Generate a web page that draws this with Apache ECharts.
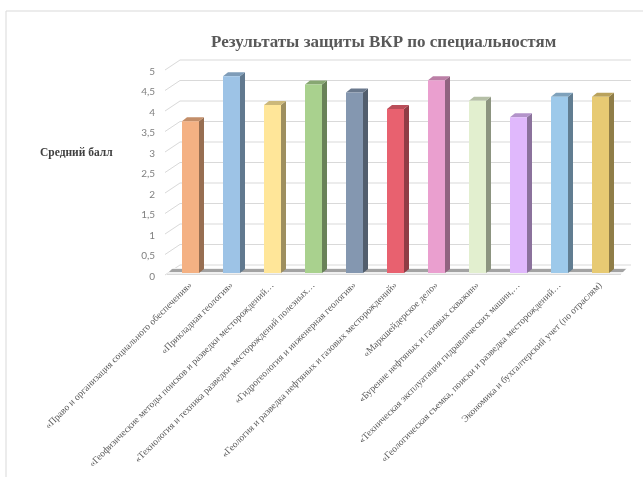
<!DOCTYPE html>
<html><head><meta charset="utf-8">
<script src="https://cdn.jsdelivr.net/npm/echarts@6/dist/echarts.min.js"></script>
<style>html,body{margin:0;padding:0;background:#fff}#c{width:643px;height:477px}</style>
</head><body><div id="c"></div>
<script>
const categories = [
  '«Право и организация социального обеспечения»',
  '«Прикладная геология»',
  '«Геофизические методы поисков и разведки месторождений…',
  '«Технология и техника разведки месторождений полезных…',
  '«Гидрогеология и инженерная геология»',
  '«Геология и разведка нефтяных и газовых месторождений»',
  '«Маркшейдерское дело»',
  '«Бурение нефтяных и газовых скважин»',
  '«Техническая эксплуатация гидравлических машин,…',
  '«Геологическая съемка, поиски и разведка месторождений…',
  'Экономика и бухгалтерский учет (по отраслям)'
];
const scores = [3.7, 4.8, 4.1, 4.6, 4.4, 4.0, 4.7, 4.2, 3.8, 4.3, 4.3];
const barColors = ['#F4B183','#9DC3E6','#FFE699','#A9D18E','#8497B0','#E8616F','#EA9FCF','#E2EFCF','#E0B8FC','#9DC9EA','#E7CA73'];
const yTicks = [0, 0.5, 1, 1.5, 2, 2.5, 3, 3.5, 4, 4.5, 5];
const titleText = 'Результаты защиты ВКР по специальностям';
const yName = 'Средний балл';

function shade(hex, k) {
  const n = parseInt(hex.slice(1), 16);
  const r = Math.round(((n >> 16) & 255) * k), g = Math.round(((n >> 8) & 255) * k), b = Math.round((n & 255) * k);
  return 'rgb(' + r + ',' + g + ',' + b + ')';
}

const chart = echarts.init(document.getElementById('c'));
const serif = "'Liberation Serif','Times New Roman',serif";
chart.setOption({
  animation: false,
  backgroundColor: '#fff',
  title: {
    text: titleText, left: 206, top: 29,
    textStyle: { fontFamily: serif, fontSize: 17, fontWeight: 'bold', color: '#595959' }
  },
  graphic: [
    { type: 'rect', shape: { x: 6, y: 11, width: 700, height: 520 }, style: { fill: 'none', stroke: '#d9d9d9', lineWidth: 1 }, silent: true },
    { type: 'text', left: 40, top: 147, style: { text: yName, font: "bold 11.5px 'Liberation Serif', serif", fill: '#404040' } }
  ],
  grid: { left: 170, right: 22, top: 68, bottom: 204 },
  xAxis: {
    type: 'category', data: categories,
    axisLine: { show: false }, axisTick: { show: false },
    axisLabel: { interval: 0, rotate: 45, margin: 11, fontFamily: serif, fontSize: 9.6, color: '#595959' }
  },
  yAxis: {
    type: 'value', min: 0, max: 5, interval: 0.5,
    axisLine: { show: false }, axisTick: { show: false }, splitLine: { show: false },
    axisLabel: { margin: 15, verticalAlign: 'top', lineHeight: 7, fontFamily: "Lato, 'Open Sans', sans-serif", fontSize: 10, color: '#7f7f7f',
      formatter: v => String(v).replace('.', ',') }
  },
  series: [
    {
      type: 'custom', z: 1, silent: true,
      data: yTicks.map(v => [0, v]),
      renderItem: function (params, api) {
        const cs = params.coordSys;
        const y = api.coord([0, api.value(1)])[1];
        return {
          type: 'polyline',
          shape: { points: [[cs.x - 5, y + 2], [cs.x + 10, y - 8], [cs.x + cs.width + 10, y - 8]] },
          style: { stroke: '#d9d9d9', lineWidth: 1, fill: 'none' }
        };
      }
    },
    {
      type: 'custom', z: 2, silent: true,
      data: [[0, 0]],
      renderItem: function (params, api) {
        const cs = params.coordSys;
        const y = api.coord([0, 0])[1];
        return {
          type: 'group', children: [
            { type: 'polygon', shape: { points: [[cs.x - 3, y + 1], [cs.x + cs.width, y + 1], [cs.x + cs.width + 6, y - 5], [cs.x + 3, y - 5]] },
              style: { fill: '#f0f0f0' } },
            { type: 'polygon', shape: { points: [[cs.x - 1, y - 1], [cs.x + cs.width + 2, y - 1], [cs.x + cs.width + 5, y - 4], [cs.x + 2, y - 4]] },
              style: { fill: '#8a8a8a', opacity: 0.75 } },
            { type: 'line', shape: { x1: cs.x - 3, y1: y + 1.5, x2: cs.x + cs.width, y2: y + 1.5 }, style: { stroke: '#d9d9d9', lineWidth: 1 } }
          ]
        };
      }
    },
    {
      type: 'custom', z: 3,
      data: scores.map((v, i) => [i, v]),
      renderItem: function (params, api) {
        const i = api.value(0), v = api.value(1);
        const top = api.coord([i, v]), base = api.coord([i, 0]);
        const w = 17, dx = 5, dy = 4;
        const x0 = top[0] - w / 2, x1 = top[0] + w / 2;
        const col = barColors[i];
        return {
          type: 'group', children: [
            { type: 'polygon', shape: { points: [[x1, top[1]], [x1 + dx, top[1] - dy], [x1 + dx, base[1] - dy], [x1, base[1]]] },
              style: { fill: shade(col, 0.62) } },
            { type: 'polygon', shape: { points: [[x0, top[1]], [x0 + dx, top[1] - dy], [x1 + dx, top[1] - dy], [x1, top[1]]] },
              style: { fill: shade(col, 0.8) } },
            { type: 'rect', shape: { x: x0, y: top[1], width: w, height: base[1] - top[1] },
              style: { fill: col } }
          ]
        };
      }
    }
  ]
});
</script>
</body></html>
